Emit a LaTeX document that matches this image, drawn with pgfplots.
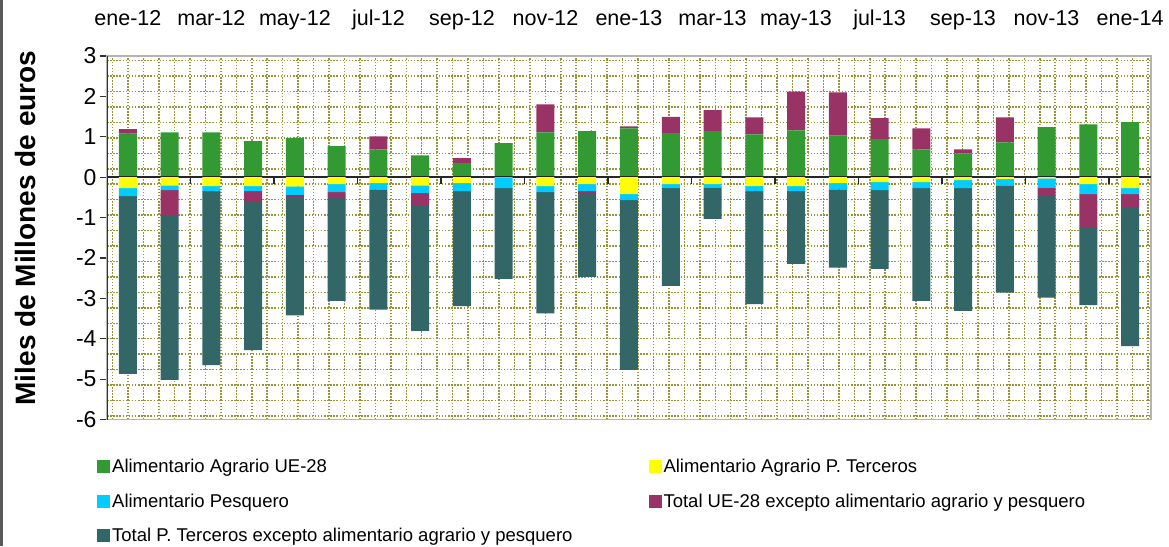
\documentclass[border=0pt]{standalone}
\usepackage{pgfplots}
\pgfplotsset{compat=1.18}
\usepackage{pgfplotstable}
\usepackage{fontspec}
\setmainfont{Liberation Sans}
\definecolor{cG}{RGB}{51,153,51}
\definecolor{cY}{RGB}{255,255,0}
\definecolor{cC}{RGB}{0,204,255}
\definecolor{cP}{RGB}{153,51,102}
\definecolor{cT}{RGB}{51,102,102}
\definecolor{cGrid}{RGB}{150,150,55}
\definecolor{cFrame}{RGB}{180,180,180}

% x G Y C Pp Pn T
\pgfplotstableread{
x G Y C Pp Pn T
0 1.08 -0.27 -0.20 0.11 0 -4.40
1 1.11 -0.20 -0.12 0 -0.62 -4.08
2 1.11 -0.22 -0.125 0 -0.02 -4.29
3 0.89 -0.22 -0.125 0 -0.27 -3.67
4 0.97 -0.23 -0.21 0 -0.07 -2.91
5 0.77 -0.17 -0.20 0 -0.15 -2.54
6 0.69 -0.15 -0.15 0.32 0 -2.98
7 0.54 -0.20 -0.195 0 -0.30 -3.11
8 0.35 -0.15 -0.195 0.12 0 -2.85
9 0.84 -0.01 -0.26 0 0 -2.25
10 1.11 -0.22 -0.15 0.69 0 -3.00
11 1.14 -0.17 -0.175 0 -0.075 -2.05
12 1.21 -0.42 -0.15 0.05 0 -4.20
13 1.09 -0.17 -0.10 0.40 0 -2.42
14 1.14 -0.17 -0.08 0.52 0 -0.78
15 1.06 -0.22 -0.125 0.42 0 -2.80
16 1.16 -0.22 -0.125 0.96 0 -1.80
17 1.03 -0.15 -0.15 1.07 0 -1.94
18 0.94 -0.12 -0.20 0.52 0 -1.95
19 0.69 -0.12 -0.15 0.52 0 -2.79
20 0.59 -0.07 -0.20 0.10 0 -3.04
21 0.86 -0.05 -0.15 0.62 0 -2.66
22 1.24 -0.03 -0.22 0 -0.22 -2.51
23 1.31 -0.17 -0.25 0 -0.81 -1.94
24 1.36 -0.27 -0.15 0 -0.32 -3.44
}\data

\pgfplotsset{base/.style={
  scale only axis, width=1044pt, height=363.5pt,
  at={(107pt,-419.5pt)}, anchor=south west,
  xmin=-0.5, xmax=24.5, ymin=-6, ymax=3,
  ybar stacked, bar width=18pt,
}}

\begin{document}
\begin{tikzpicture}
\path[use as bounding box] (0pt,0pt) rectangle (1169pt,-546pt);
\draw[black!65, line width=2.5pt] (1.25pt,0pt) -- (1.25pt,-546pt);

\begin{axis}[base,
  axis line style={cFrame, line width=1.8pt},
  xtick={0,2,...,24},
  xticklabels={ene-12,mar-12,may-12,jul-12,sep-12,nov-12,ene-13,mar-13,may-13,jul-13,sep-13,nov-13,ene-14},
  xticklabel pos=upper,
  x tick style={draw=none},
  xticklabel style={font=\fontsize{21.5}{24}\selectfont, anchor=base, yshift=24pt},
  ytick={-6,-5,...,3},
  ytick pos=left,
  tick align=outside,
  major tick length=7pt,
  y tick style={black!80, line width=1.2pt},
  yticklabel style={font=\fontsize{23}{26}\selectfont},
  /pgf/number format/assume math mode=true,
  minor xtick={-0.3635,0.0065,...,24.5},
  minor ytick={2.884,2.5016,...,-6},
  xminorgrids=true, yminorgrids=true,
  minor tick length=0pt,
  minor grid style={cGrid, line width=1.5pt, dash pattern=on 1.5pt off 1.6pt},
]
\addplot[fill=cG, draw=none] table[x=x, y=G] {\data};
\addplot[fill=cP, draw=none] table[x=x, y=Pp] {\data};
\draw[black!80, line width=1.5pt] (rel axis cs:0,0) -- (rel axis cs:0,1);
\end{axis}

\begin{axis}[base, hide axis,
  legend columns=2,
  legend cell align=left,
  legend image code/.code={\fill[#1] (0pt,-6.5pt) rectangle (13pt,6.5pt);},
  legend style={at={(axis description cs:-0.0096,-0.104)}, anchor=north west,
    draw=none, fill=none, font=\fontsize{18.5}{21}\selectfont, inner sep=0pt,
    row sep=15.5pt,
    /tikz/every even column/.append style={column sep=74pt}},
]
\addlegendimage{fill=cG, draw=none}
\addlegendentry{Alimentario Agrario UE-28}
\addlegendimage{fill=cY, draw=none}
\addlegendentry{Alimentario Agrario P. Terceros}
\addlegendimage{fill=cC, draw=none}
\addlegendentry{Alimentario Pesquero}
\addlegendimage{fill=cP, draw=none}
\addlegendentry{Total UE-28 excepto alimentario agrario y pesquero}
\addlegendimage{fill=cT, draw=none}
\addlegendentry{Total P. Terceros excepto alimentario agrario y pesquero}
\addplot[fill=cY, draw=none, forget plot] table[x=x, y=Y] {\data};
\addplot[fill=cC, draw=none, forget plot] table[x=x, y=C] {\data};
\addplot[fill=cP, draw=none, forget plot] table[x=x, y=Pn] {\data};
\addplot[fill=cT, draw=none, forget plot] table[x=x, y=T] {\data};
\draw[black!85, line width=1.5pt] (axis cs:-0.5,0) -- (axis cs:24.5,0);
\pgfplotsinvokeforeach{1.5,3.5,...,23.5}{\draw[black!85, line width=1.5pt] (axis cs:#1,0) -- ++(0pt,-7pt);}
\end{axis}

\node[rotate=90, font=\bfseries\fontsize{28}{31}\selectfont] at (25pt,-228pt) {Miles de Millones de euros};
\end{tikzpicture}
\end{document}
